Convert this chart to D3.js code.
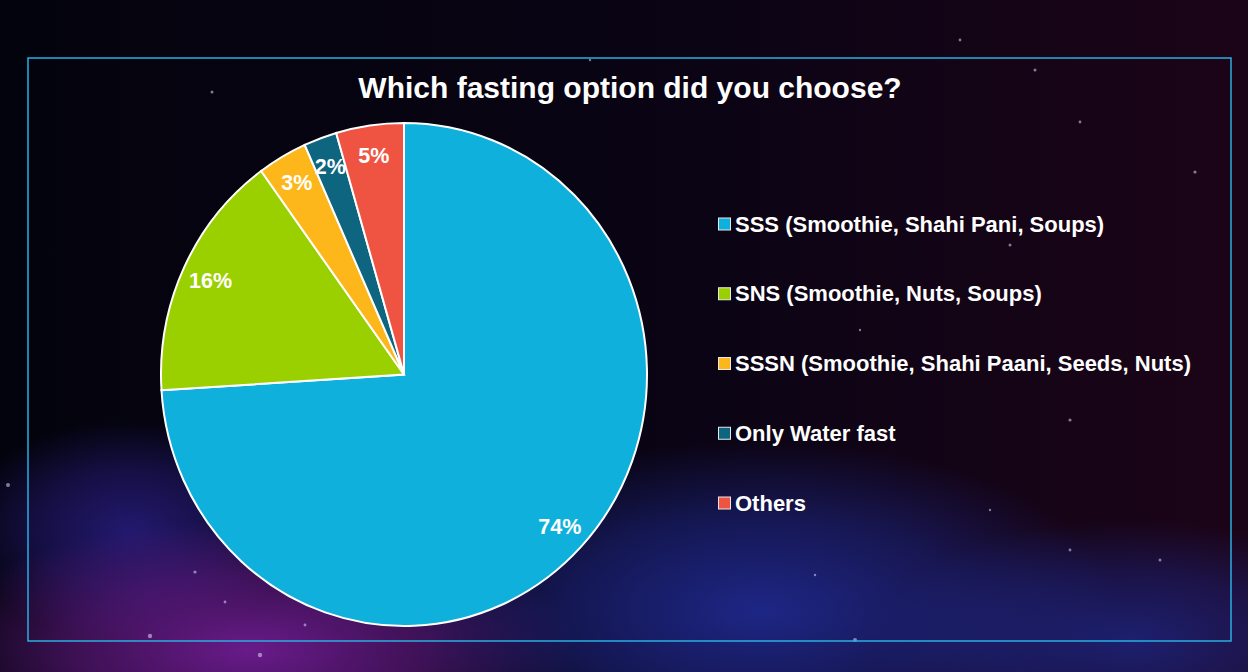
<!DOCTYPE html>
<html>
<head>
<meta charset="utf-8">
<script src="https://cdn.jsdelivr.net/npm/d3@7"></script>
<style>
  html, body { margin: 0; padding: 0; background: #05040f; overflow: hidden; }
  svg { display: block; }
  text { font-family: "Liberation Sans", Arial, sans-serif; font-weight: bold; fill: white; }
</style>
</head>
<body>
<svg id="chart" width="1248" height="672"></svg>
<script>
// chart data
const categories = ["SSS (Smoothie, Shahi Pani, Soups)", "SNS (Smoothie, Nuts, Soups)",
    "SSSN (Smoothie, Shahi Paani, Seeds, Nuts)", "Only Water fast", "Others"];
const values = [74, 16, 3.3, 2.2, 4.5];
const colors = ["#0fb1dc", "#9bd000", "#fdb71b", "#0e6580", "#ef5443"];
const title = "Which fasting option did you choose?";

// faint background stars (decoration only)
const stars = [[212, 92, 1.5], [590, 60, 1.2], [960, 40, 1.4], [1035, 70, 1.5], [1080, 122, 1.4],
    [1195, 172, 1.6], [1010, 245, 1.5], [860, 330, 1.2], [1070, 420, 1.6], [990, 510, 1.2],
    [1160, 560, 1.5], [8, 485, 2], [195, 572, 1.6], [225, 602, 1.4], [150, 636, 2.2],
    [260, 655, 2.2], [305, 625, 1.4], [855, 640, 2], [815, 575, 1.2], [1070, 550, 1.4]];

const svg = d3.select("#chart");
const W = 1248, H = 672;

// background
const defs = svg.append("defs");
const bg = defs.append("linearGradient").attr("id", "bg").attr("x1", 0).attr("y1", 0).attr("x2", 1).attr("y2", 0);
bg.append("stop").attr("offset", "0%").attr("stop-color", "#03030d");
bg.append("stop").attr("offset", "55%").attr("stop-color", "#0a0414");
bg.append("stop").attr("offset", "100%").attr("stop-color", "#1c0418");

function glow(id, color, op) {
    const gr = defs.append("radialGradient").attr("id", id);
    gr.append("stop").attr("offset", "0%").attr("stop-color", color).attr("stop-opacity", op);
    gr.append("stop").attr("offset", "55%").attr("stop-color", color).attr("stop-opacity", op * 0.55);
    gr.append("stop").attr("offset", "100%").attr("stop-color", color).attr("stop-opacity", 0);
}
glow("purple", "#6e1c90", 0.95);
glow("blue", "#1f2a92", 0.9);
glow("indigo", "#2a1e86", 0.8);

svg.append("rect").attr("width", W).attr("height", H).attr("fill", "url(#bg)");
const nebulae = svg.append("g");
nebulae.append("ellipse").attr("cx", 130).attr("cy", 530).attr("rx", 170).attr("ry", 110).attr("fill", "url(#indigo)");
nebulae.append("ellipse").attr("cx", 250).attr("cy", 650).attr("rx", 330).attr("ry", 130).attr("fill", "url(#purple)");
nebulae.append("ellipse").attr("cx", 760).attr("cy", 610).attr("rx", 360).attr("ry", 170).attr("fill", "url(#blue)");
nebulae.append("ellipse").attr("cx", 1130).attr("cy", 640).attr("rx", 260).attr("ry", 120).attr("fill", "url(#blue)").attr("opacity", 0.8);

svg.append("g").selectAll("circle").data(stars).enter().append("circle")
    .attr("cx", d => d[0]).attr("cy", d => d[1]).attr("r", d => d[2])
    .attr("fill", "#d0c8f0").attr("opacity", 0.6);

// frame
svg.append("rect").attr("x", 28).attr("y", 58).attr("width", 1203).attr("height", 583)
    .attr("fill", "none").attr("stroke", "#2aaee0").attr("stroke-width", 1.5);

// title
svg.append("text").attr("x", 630).attr("y", 98).attr("text-anchor", "middle")
    .style("font-size", "30px").text(title);

// pie
const R = 243, cx = 404, cy = 374.5, sy = 251.5 / 243;
const total = d3.sum(values);
const pie = d3.pie().sort(null).value(d => d.v);
const arcs = pie(values.map((v, i) => ({ v: v, i: i })));
const arc = d3.arc().innerRadius(0).outerRadius(R);
const labelArc = d3.arc().innerRadius(R * 0.88).outerRadius(R * 0.88);

const g = svg.append("g").attr("transform", `translate(${cx},${cy}) scale(1,${sy})`);
g.selectAll("path").data(arcs).enter().append("path")
    .attr("d", arc)
    .attr("fill", d => colors[d.data.i])
    .attr("stroke", "white").attr("stroke-width", 2)
    .attr("vector-effect", "non-scaling-stroke");

const lg = svg.append("g").attr("transform", `translate(${cx},${cy})`);
lg.selectAll("text").data(arcs).enter().append("text")
    .attr("x", d => labelArc.centroid(d)[0])
    .attr("y", d => labelArc.centroid(d)[1] * sy)
    .attr("dy", "0.35em")
    .attr("text-anchor", "middle")
    .style("font-size", "21.5px")
    .text(d => Math.round(d.data.v / total * 100) + "%");

// legend
const legY = d3.scalePoint().domain(categories).range([224, 503]);
const leg = svg.append("g").selectAll("g").data(categories).enter().append("g")
    .attr("transform", d => `translate(718,${legY(d)})`);
leg.append("rect").attr("x", 0.5).attr("y", -6).attr("width", 12).attr("height", 12)
    .attr("fill", (d, i) => colors[i]).attr("stroke", "#e8e8e8").attr("stroke-width", 1);
leg.append("text").attr("x", 17).attr("dy", "0.35em").style("font-size", "22px").text(d => d);
</script>
</body>
</html>
